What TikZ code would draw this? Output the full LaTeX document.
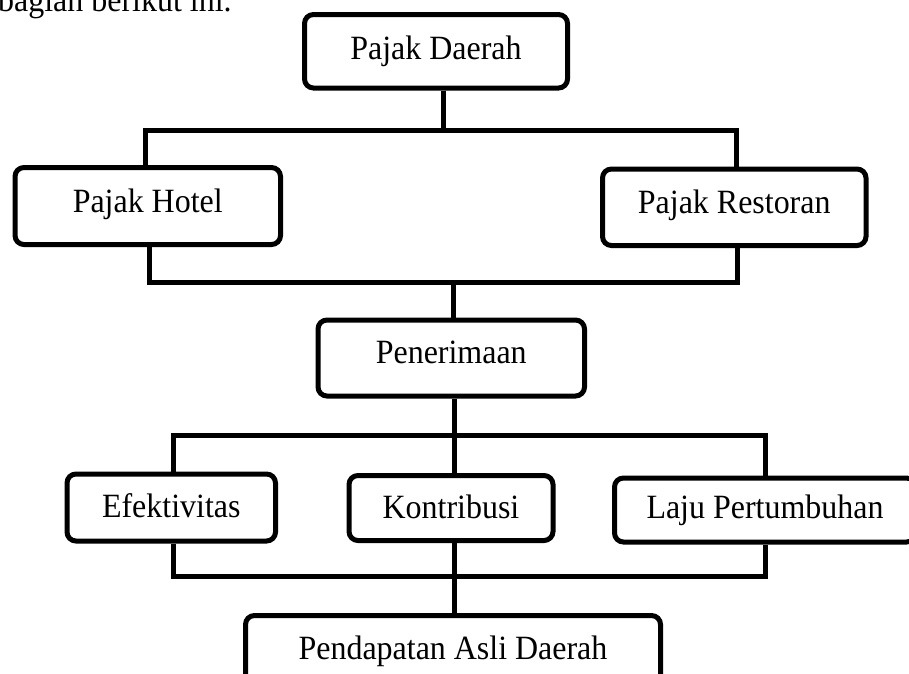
\documentclass[tikz,border=0pt]{standalone}
\usepackage{fontspec}
\setmainfont{Liberation Serif}
\newfontfamily\tallserif[FakeStretch=0.94]{Liberation Serif}
\begin{document}
\begin{tikzpicture}[x=1pt,y=-1pt,
  box/.style={draw, line width=5pt, rounded corners=9pt, fill=white, inner sep=0pt,
    font=\tallserif\fontsize{34}{40}\selectfont, text depth=8pt},
  conn/.style={line width=5pt, line join=miter},
  hdr/.style={font=\tallserif\fontsize{34}{40}\selectfont, inner sep=0pt}]
\useasboundingbox (0,0) rectangle (909,673);
% header text
\node[hdr, anchor=base west] (hd) at (-2,11) {bagian berikut ini.};
% boxes
\node[box, minimum width=263pt, minimum height=73.5pt, text height=24pt] (PD) at (436,51.25) {Pajak Daerah};
\node[box, minimum width=265.5pt, minimum height=77pt, text height=20pt] (PH) at (147.75,206) {Pajak Hotel};
\node[box, minimum width=263.5pt, minimum height=76.5pt, text height=20pt] (PR) at (734.25,207.25) {Pajak Restoran};
\node[box, minimum width=266.5pt, minimum height=76pt, text height=18pt] (PE) at (451.25,358) {Penerimaan};
\node[box, minimum width=208.5pt, minimum height=67pt, text height=28pt] (EF) at (171.25,507.5) {Efektivitas};
\node[box, minimum width=204pt, minimum height=65pt, text height=28pt] (KO) at (451,508) {Kontribusi};
\node[box, minimum width=301pt, minimum height=64pt, text height=24pt] (LA) at (765,510) {Laju Pertumbuhan};
\node[box, minimum width=415pt, minimum height=73pt, text height=22pt] (PAD) at (453,652) {Pendapatan Asli Daerah};
% junction coordinates
\coordinate (t1) at (443,130);
\coordinate (a1) at (145.5,130);
\coordinate (a2) at (736.5,130);
\coordinate (b1) at (149,282);
\coordinate (b2) at (737,282);
\coordinate (c1) at (453.5,282);
\coordinate (d1) at (173.5,435.5);
\coordinate (d2) at (765,435.5);
\coordinate (dm) at (454,435.5);
\coordinate (e1) at (173.5,576);
\coordinate (e2) at (765,576);
\coordinate (em) at (454.5,576);
% connectors
\draw[conn] (PD.south -| t1) -- (t1);
\draw[conn] (PH.north -| a1) -- (a1) -- (a2) -- (PR.north -| a2);
\draw[conn] (PH.south -| b1) -- (b1) -- (b2) -- (PR.south -| b2);
\draw[conn] (c1) -- (PE.north -| c1);
\draw[conn] (PE.south -| dm) -- (dm);
\draw[conn] (EF.north -| d1) -- (d1) -- (d2) -- (LA.north -| d2);
\draw[conn] (dm) -- (KO.north -| dm);
\draw[conn] (EF.south -| e1) -- (e1) -- (e2) -- (LA.south -| e2);
\draw[conn] (KO.south -| em) -- (em) -- (PAD.north -| em);
\end{tikzpicture}
\end{document}
